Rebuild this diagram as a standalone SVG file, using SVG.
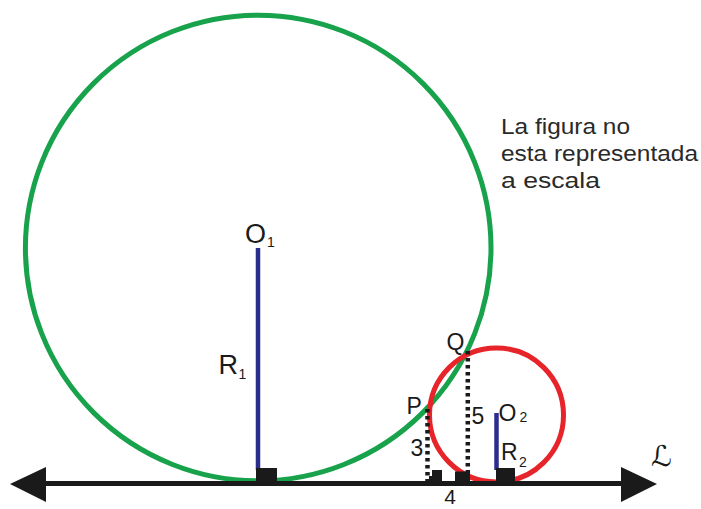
<svg xmlns="http://www.w3.org/2000/svg" width="701" height="509" viewBox="0 0 701 509">
<style>
.lbl{font-family:"Liberation Sans",Arial,sans-serif;fill:#1a1a1a}
.big{font-size:27px}
.mid{font-size:23px}
.sub{font-size:14px}
.note{font-family:"Liberation Sans",Arial,sans-serif;font-size:22.5px;fill:#2a2a2a}
.dot{stroke:#1a1a1a;stroke-width:4.5;stroke-dasharray:3.5 3.5;fill:none}
.blk{fill:#1a1a1a}
.rad{stroke:#2b2d8c;stroke-width:4.5}
</style>
<rect width="701" height="509" fill="#ffffff"/>
<g id="circle-O1">
<circle cx="258.2" cy="248" r="232.8" fill="none" stroke="#17a24b" stroke-width="5"/>
</g>
<g id="circle-O2">
<circle cx="496.5" cy="415" r="67" fill="none" stroke="#e6242a" stroke-width="5"/>
</g>
<g id="line-L">
<line x1="40" y1="483.5" x2="628" y2="483.5" stroke="#1a1a1a" stroke-width="5"/>
<polygon class="blk" points="10,484 46,467 46,502"/>
<polygon class="blk" points="657,484 621,467 621,502"/>
<text x="651" y="466" style="font-family:'DejaVu Serif','DejaVu Sans',serif;font-style:italic;font-size:29px;fill:#1a1a1a">ℒ</text>
</g>
<g id="connectors">
<line class="rad" x1="258" y1="248" x2="258" y2="470"/>
<rect class="blk" x="256" y="468" width="21" height="16"/>
<line class="rad" x1="496.5" y1="413" x2="496.5" y2="470"/>
<rect class="blk" x="496" y="468" width="19" height="16"/>
<line class="dot" x1="427.5" y1="409" x2="427.5" y2="483"/>
<rect class="blk" x="432" y="470" width="10" height="14"/>
<rect class="blk" x="429" y="476" width="4" height="8"/>
<line class="dot" x1="467.8" y1="351" x2="467.8" y2="473"/>
<rect class="blk" x="455" y="471.5" width="15" height="12.5"/>
</g>
<g id="label-O1">
<text class="lbl big" x="245" y="243">O</text>
<text class="lbl sub" x="267" y="246.5">1</text>
</g>
<g id="label-R1">
<text class="lbl big" x="218.5" y="373.5">R</text>
<text class="lbl sub" x="238.5" y="378.5">1</text>
</g>
<g id="label-Q">
<text class="lbl mid" x="446.5" y="350">Q</text>
</g>
<g id="label-P">
<text class="lbl mid" x="406.5" y="413.5">P</text>
</g>
<g id="label-3">
<text class="lbl mid" x="410.5" y="456">3</text>
</g>
<g id="label-5">
<text class="lbl mid" x="471.5" y="423.5">5</text>
</g>
<g id="label-O2">
<text class="lbl mid" x="498.5" y="420.5">O</text>
<text class="lbl sub" x="519.5" y="421.5">2</text>
</g>
<g id="label-R2">
<text class="lbl mid" x="501" y="460">R</text>
<text class="lbl sub" x="519" y="466.5">2</text>
</g>
<g id="label-4">
<text class="lbl" style="font-size:21px" x="450" y="503.5" text-anchor="middle">4</text>
</g>
<g id="note">
<text class="note" x="501" y="133.5" textLength="129" lengthAdjust="spacingAndGlyphs">La figura no</text>
<text class="note" x="501" y="160.5" textLength="197" lengthAdjust="spacingAndGlyphs">esta representada</text>
<text class="note" x="501" y="188" textLength="99" lengthAdjust="spacingAndGlyphs">a escala</text>
</g>
</svg>
